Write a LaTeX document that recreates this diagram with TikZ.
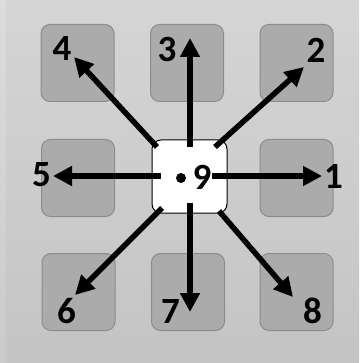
\documentclass[tikz,border=0pt]{standalone}
\usepackage{fontspec}
\setmainfont{Carlito}
\usetikzlibrary{arrows.meta}
\definecolor{bgtop}{RGB}{213,213,213}
\definecolor{bgbot}{RGB}{196,196,196}
\definecolor{striptop}{RGB}{220,220,220}
\definecolor{stripbot}{RGB}{202,202,202}
\definecolor{cellfill}{RGB}{171,171,171}
\definecolor{cellline}{RGB}{140,140,140}
\tikzset{
  cell/.style={draw=cellline, fill=cellfill, line width=1pt, rounded corners=9pt,
    minimum width=73pt, minimum height=77pt, inner sep=0pt},
  hub/.style={draw=black, fill=white, line width=1pt, rounded corners=9pt,
    minimum width=75pt, minimum height=73pt, inner sep=0pt},
  digit/.style={inner sep=0pt, font=\fontsize{37}{37}\selectfont\bfseries},
  dir/.style={line width=5.5pt, -{Triangle[length=19pt,width=19pt]}}
}
\begin{document}
\begin{tikzpicture}[x=1pt, y=-1pt]
  \useasboundingbox (0,0) rectangle (359,363);
  % backdrop and the lighter strip on the left edge
  \shade[top color=bgtop, bottom color=bgbot] (0,0) rectangle (359,363);
  \shade[top color=striptop, bottom color=stripbot] (0,0) rectangle (6,363);

  % the eight outer cells
  \node[cell] (c4) at (77.5,63) {};
  \node[cell] (c3) at (187,63) {};
  \node[cell] (c2) at (296.5,63) {};
  \node[cell] (c5) at (78,178) {};
  \node[cell] (c1) at (296.5,178) {};
  \node[cell] (c6) at (78.5,292) {};
  \node[cell] (c7) at (188,292) {};
  \node[cell] (c8) at (296.5,292) {};

  % the centre cell
  \node[hub] (c9) at (189.5,176.5) {};

  % arrow starts inside the centre cell
  \coordinate (s1) at (212,176);
  \coordinate (s2) at (215,147);
  \coordinate (s3) at (190,147);
  \coordinate (s4) at (157,147);
  \coordinate (s5) at (161,176);
  \coordinate (s6) at (162,208);
  \coordinate (s7) at (190,203);
  \coordinate (s8) at (219,211);

  % arrow tips
  \coordinate (t1) at (322,176);
  \coordinate (t2) at (304,67);
  \coordinate (t3) at (190,38);
  \coordinate (t4) at (74,57);
  \coordinate (t5) at (53,176);
  \coordinate (t6) at (75,295);
  \coordinate (t7) at (190,312);
  \coordinate (t8) at (293,297);

  \foreach \k in {1,...,8} {
    \draw[dir] (s\k) -- (t\k);
  }

  % direction numbers
  \node[digit] (n1) at (333.5,176) {1};
  \node[digit] (n2) at (316,50) {2};
  \node[digit] (n3) at (167,49) {3};
  \node[digit] (n4) at (62,48.5) {4};
  \node[digit] (n5) at (41.5,175) {5};
  \node[digit] (n6) at (66.5,311) {6};
  \node[digit] (n7) at (170.5,311) {7};
  \node[digit] (n8) at (312.5,311) {8};
  \node[digit] (n9) at (202,177) {9};

  % centre dot
  \fill (181,178) circle (5pt);
\end{tikzpicture}
\end{document}
